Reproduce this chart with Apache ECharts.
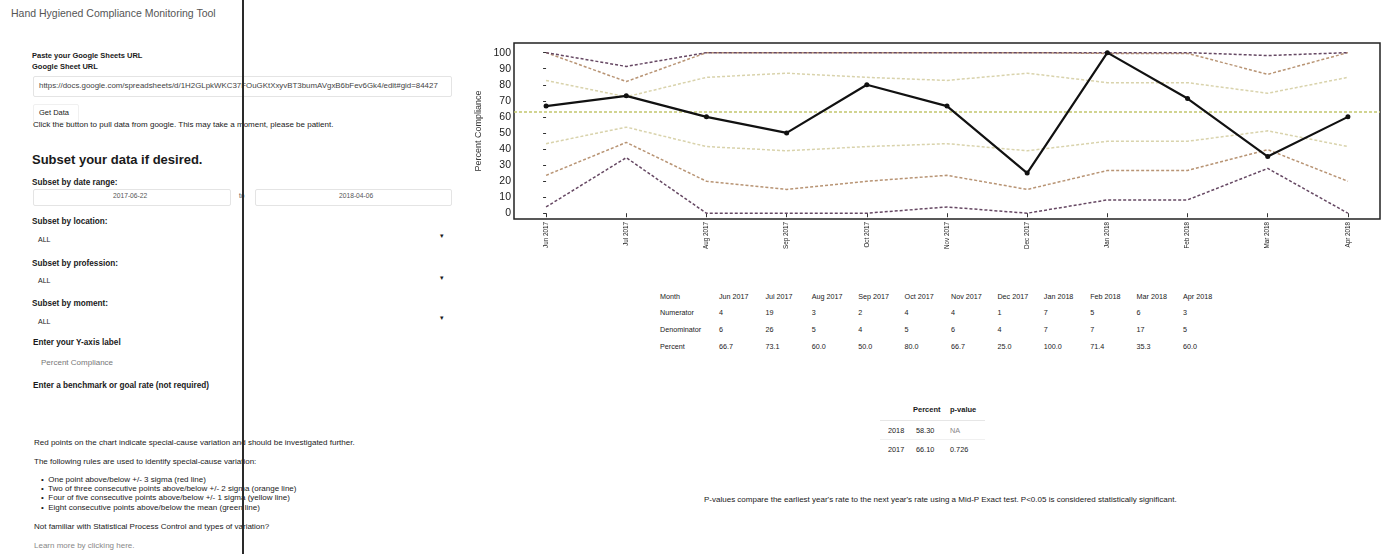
<!DOCTYPE html>
<html>
<head>
<meta charset="utf-8">
<script src="https://cdn.jsdelivr.net/npm/echarts@6/dist/echarts.min.js"></script>
<style>
  html, body { margin: 0; padding: 0; background: #fff; }
  body { width: 1387px; height: 554px; position: relative; overflow: hidden;
         font-family: 'Liberation Sans', Arial, sans-serif; color: #1a1a1a; }
  .t { position: absolute; white-space: nowrap; font-size: 8px; line-height: 1; }
  .b { font-weight: bold; font-size: 8.2px; }
  .g { color: #888; }
  .box { position: absolute; border: 1px solid #e4e4e4; border-radius: 2px; }
  #chart { position: absolute; left: 460px; top: 0; width: 927px; height: 275px; }
  #fold { position: absolute; left: 242px; top: 0; width: 2px; height: 554px; background: #2a2a2a; }
</style>
</head>
<body>
<!-- sidebar -->
<div class="t" style="left:11px;top:8px;font-size:10.5px;color:#555">Hand Hygiened Compliance Monitoring Tool</div>
<div class="t b" style="left:32px;top:52px;font-size:7.5px">Paste your Google Sheets URL</div>
<div class="t b" style="left:32px;top:63px;font-size:7.5px">Google Sheet URL</div>
<div class="box" style="left:33px;top:76px;width:417px;height:19px"></div>
<div class="t" style="left:39px;top:82px;font-size:7.9px;color:#444">https://docs.google.com/spreadsheets/d/1H2GLpkWKC37FOuGKtXxyvBT3bumAVgxB6bFev6Gk4/edit#gid=84427</div>
<div class="box" style="left:33px;top:104px;width:44px;height:17px;border-color:#f0f0f0"></div>
<div class="t" style="left:39px;top:109px;font-size:7.5px">Get Data</div>
<div class="t" style="left:33px;top:121px">Click the button to pull data from google. This may take a moment, please be patient.</div>
<div class="t b" style="left:32px;top:153px;font-size:13px">Subset your data if desired.</div>
<div class="t b" style="left:32px;top:179px">Subset by date range:</div>
<div class="box" style="left:33px;top:189px;width:196px;height:15px"></div>
<div class="box" style="left:255px;top:189px;width:195px;height:15px"></div>
<div class="t" style="left:113px;top:193px;font-size:6.7px;color:#555">2017-06-22</div>
<div class="t" style="left:239px;top:193px;font-size:6.7px;color:#555">to</div>
<div class="t" style="left:339px;top:193px;font-size:6.7px;color:#555">2018-04-06</div>
<div class="t b" style="left:32px;top:218px">Subset by location:</div>
<div class="t" style="left:38px;top:236px;font-size:7px">ALL</div>
<div class="t" style="left:440px;top:232px;font-size:7px">&#9662;</div>
<div class="t b" style="left:32px;top:260px">Subset by profession:</div>
<div class="t" style="left:38px;top:277px;font-size:7px">ALL</div>
<div class="t" style="left:440px;top:274px;font-size:7px">&#9662;</div>
<div class="t b" style="left:32px;top:300px">Subset by moment:</div>
<div class="t" style="left:38px;top:318px;font-size:7px">ALL</div>
<div class="t" style="left:440px;top:314px;font-size:7px">&#9662;</div>
<div class="t b" style="left:33px;top:339px">Enter your Y-axis label</div>
<div class="t" style="left:41px;top:359px;color:#777">Percent Compliance</div>
<div class="t b" style="left:33px;top:382px">Enter a benchmark or goal rate (not required)</div>
<div class="t" style="left:34px;top:439px">Red points on the chart indicate special-cause variation and should be investigated further.</div>
<div class="t" style="left:34px;top:458px">The following rules are used to identify special-cause variation:</div>
<div class="t" style="left:41px;top:476px">&bull;&nbsp; One point above/below +/- 3 sigma (red line)</div>
<div class="t" style="left:41px;top:485px">&bull;&nbsp; Two of three consecutive points above/below +/- 2 sigma (orange line)</div>
<div class="t" style="left:41px;top:494px">&bull;&nbsp; Four of five consecutive points above/below +/- 1 sigma (yellow line)</div>
<div class="t" style="left:41px;top:504px">&bull;&nbsp; Eight consecutive points above/below the mean (green line)</div>
<div class="t" style="left:34px;top:523px">Not familiar with Statistical Process Control and types of variation?</div>
<div class="t g" style="left:34px;top:542px">Learn more by clicking here.</div>
<div id="fold"></div>

<!-- chart -->
<div id="chart"></div>

<!-- tables -->
<div id="tables"></div>
<div class="t b" style="left:913px;top:406px;font-size:7.5px">Percent</div>
<div class="t b" style="left:950px;top:406px;font-size:7.5px">p-value</div>
<div style="position:absolute;left:880px;top:420px;width:105px;height:1px;background:#e6e6e6"></div>
<div class="t" style="left:888px;top:427px;font-size:7.3px">2018</div>
<div class="t" style="left:916px;top:427px;font-size:7.3px">58.30</div>
<div class="t g" style="left:950px;top:427px;font-size:7.3px">NA</div>
<div style="position:absolute;left:880px;top:439px;width:105px;height:1px;background:#f0f0f0"></div>
<div class="t" style="left:888px;top:446px;font-size:7.3px">2017</div>
<div class="t" style="left:916px;top:446px;font-size:7.3px">66.10</div>
<div class="t" style="left:950px;top:446px;font-size:7.3px">0.726</div>
<div class="t" style="left:704px;top:496px">P-values compare the earliest year's rate to the next year's rate using a Mid-P Exact test. P&lt;0.05 is considered statistically significant.</div>

<script>
// 数据
const months = ['Jun 2017', 'Jul 2017', 'Aug 2017', 'Sep 2017', 'Oct 2017', 'Nov 2017',
  'Dec 2017', 'Jan 2018', 'Feb 2018', 'Mar 2018', 'Apr 2018']
const numerator = [4, 19, 3, 2, 4, 4, 1, 7, 5, 6, 3]
const denominator = [6, 26, 5, 4, 5, 6, 4, 7, 7, 17, 5]
const percent = [66.7, 73.1, 60.0, 50.0, 80.0, 66.7, 25.0, 100.0, 71.4, 35.3, 60.0]
const meanRate = 63.0
const upper3 = [100, 91.4, 100, 100, 100, 100, 100, 100, 100, 98.2, 100]
const upper2 = [100, 82.0, 100, 100, 100, 100, 100, 99.5, 99.5, 86.5, 100]
const upper1 = [82.7, 72.5, 84.6, 87.2, 84.6, 82.7, 87.2, 81.3, 81.3, 74.7, 84.6]
const lower1 = [43.3, 53.6, 41.5, 38.9, 41.5, 43.3, 38.9, 44.8, 44.8, 51.3, 41.5]
const lower2 = [23.6, 44.1, 19.9, 14.8, 19.9, 23.6, 14.8, 26.6, 26.6, 39.6, 19.9]
const lower3 = [3.9, 34.6, 0, 0, 0, 3.9, 0, 8.3, 8.3, 27.9, 0]
const yTicks = [0, 10, 20, 30, 40, 50, 60, 70, 80, 90, 100]

// 月度表格
const rows = [['Month', months], ['Numerator', numerator], ['Denominator', denominator],
  ['Percent', percent.map(v => v.toFixed(1))]]
const rowY = [293, 309, 326, 343]
let html = ''
rows.forEach((r, ri) => {
  html += `<div class="t" style="left:660px;top:${rowY[ri]}px;font-size:7.2px">${r[0]}</div>`
  r[1].forEach((v, ci) => {
    html += `<div class="t" style="left:${719 + ci * 46.4}px;top:${rowY[ri]}px;font-size:7.2px">${v}</div>`
  })
})
document.getElementById('tables').innerHTML = html

const pts = arr => arr.map((v, i) => [i, v])
const limit = (data, color, z) => ({
  type: 'line', data: pts(data), symbol: 'none', z,
  lineStyle: { color, width: 1.5, type: [3, 2] }
})

const chart = echarts.init(document.getElementById('chart'))
chart.setOption({
  animation: false,
  grid: { left: 54, top: 43, width: 866, height: 176, show: true,
    borderColor: '#222', borderWidth: 1.5, backgroundColor: 'transparent' },
  xAxis: {
    type: 'value', min: -0.4, max: 10.4,
    axisLine: { show: false },
    axisTick: { show: true, length: 4, lineStyle: { color: '#333' }, customValues: months.map((m, i) => i) },
    axisLabel: { rotate: 90, fontSize: 6.3, color: '#222', margin: 3,
      customValues: months.map((m, i) => i), formatter: v => months[v] },
    splitLine: { show: false }
  },
  yAxis: {
    type: 'value', min: -3.6, max: 106,
    name: 'Percent Compliance', nameLocation: 'middle', nameGap: 31,
    nameTextStyle: { fontSize: 9, color: '#333' },
    axisLine: { show: false },
    axisTick: { show: true, length: 3, lineStyle: { color: '#333' }, customValues: yTicks },
    axisLabel: { fontSize: 10.5, color: '#1a1a1a', margin: 3, customValues: yTicks },
    splitLine: { show: false }
  },
  series: [
    limit(upper1, '#d9d3ac', 2), limit(lower1, '#d9d3ac', 2),
    limit(upper2, '#b89474', 3), limit(lower2, '#b89474', 3),
    limit(upper3, '#664863', 4), limit(lower3, '#664863', 4),
    {
      type: 'line', data: pts(percent), z: 10,
      symbol: 'circle', symbolSize: 5,
      itemStyle: { color: '#111' },
      lineStyle: { color: '#111', width: 2.2 },
      markLine: {
        silent: true, symbol: 'none', label: { show: false },
        lineStyle: { color: '#c2c66e', width: 1.5, type: [3, 2] },
        data: [{ yAxis: meanRate }]
      }
    }
  ]
})
</script>
</body>
</html>
